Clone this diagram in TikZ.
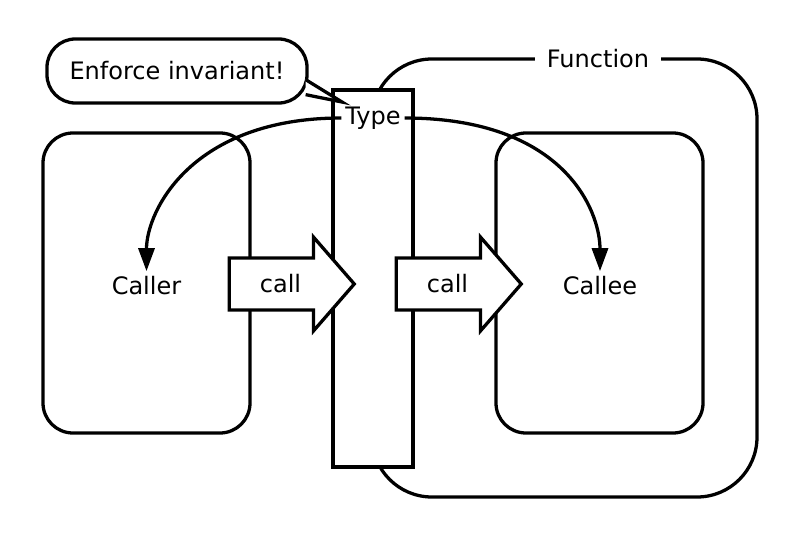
\documentclass[tikz,border=0pt]{standalone}
\usepackage{fontspec}
\setmainfont{DejaVu Sans}
\usetikzlibrary{calc, shapes, arrows.meta, positioning}

\begin{document}
\begin{tikzpicture}[
  x=0.03cm, y=-0.03cm,
  line width=2.8pt,
  font=\fontsize{20.5}{24}\selectfont,
  box/.style={
    draw,
    fill=white,
    rounded corners=#1,
    inner sep=0pt
    },
  callarrow/.style={
    draw,
    fill=white,
    single arrow,
    single arrow head extend=0.63cm,
    single arrow tip angle=98,
    minimum height=3.75cm,
    inner xsep=0.2cm,
    inner ysep=0.45cm
    },
  flow/.style={-{Triangle[length=0.69cm, width=0.48cm]}}
]

\useasboundingbox (0,0) rectangle (800,534);

\node[box=1.8cm, minimum width=11.55cm, minimum height=13.14cm](function) at (564.5,278) {};
\node[fill=white, inner xsep=10pt](functionlabel) at (598,59) {Function};

\node[draw, fill=white, minimum width=2.4cm, minimum height=11.31cm](typebar) at (373,278.5) {};
\node[inner sep=2pt](type) at (373,118) {Type};

\node[box=0.9cm, minimum width=6.21cm, minimum height=9cm](callerbox) at (146.5,283) {};
\node(caller) at (146.5,286) {Caller};

\node[box=0.9cm, minimum width=6.21cm, minimum height=9cm](calleebox) at (599.5,283) {};
\node(callee) at (600,286) {Callee};

\node[callarrow](callone) at (280.5,284) {call};
\node[callarrow](calltwo) at (447.5,284) {call};

\draw[flow] (type.west) .. controls +(-150,0) and +(0,-60) .. (caller.north);
\draw[flow] (type.east) .. controls +(160,0) and +(0,-60) .. (callee.north);

% speech bubble
\node[box=0.85cm, minimum width=7.8cm, minimum height=1.92cm](bubble) at (177,71) {Enforce invariant!};
\coordinate (tip) at (342,102);
\draw[fill=white] ($(bubble.south east)+(-3,-25)$) -- (tip) -- ($(bubble.south east)+(-3,-10)$);

\end{tikzpicture}
\end{document}
